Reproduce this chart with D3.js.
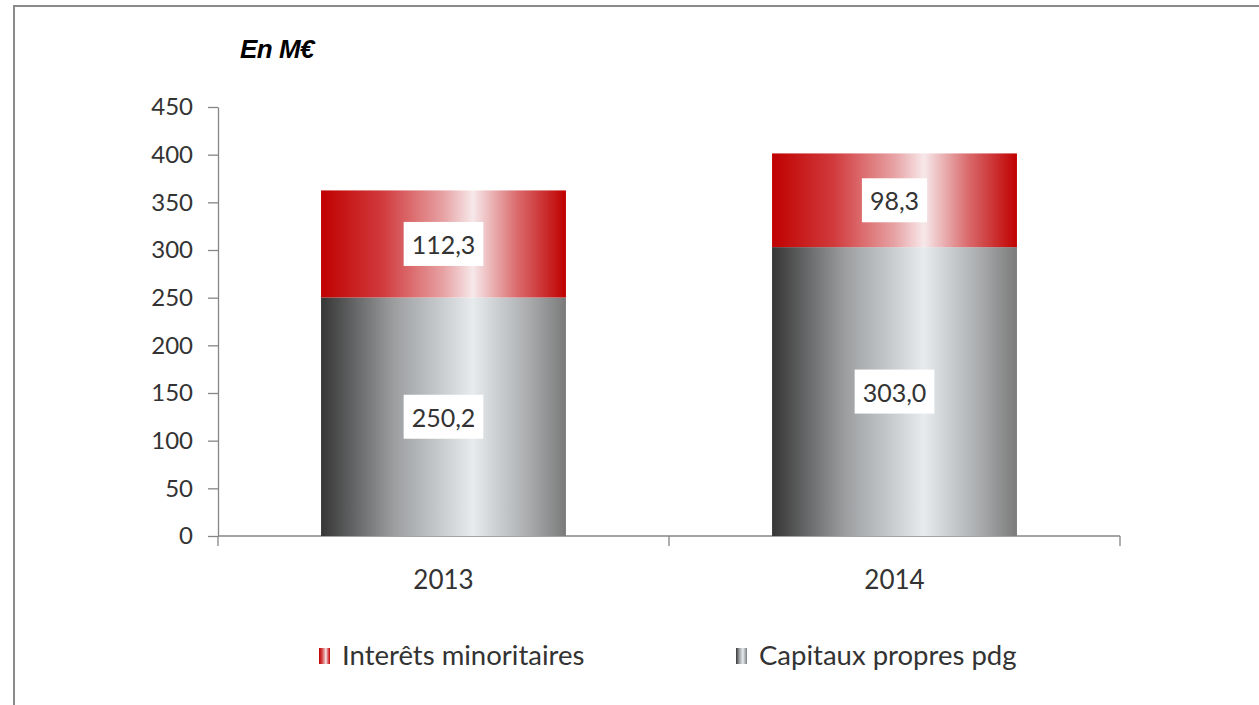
<!DOCTYPE html>
<html>
<head>
<meta charset="utf-8">
<script src="https://cdn.jsdelivr.net/npm/d3@7"></script>
<style>
  body { margin: 0; background: #fff; }
  text { font-family: Lato, "Open Sans", sans-serif; fill: #333; }
</style>
</head>
<body>
<div class="board"></div>
<script>
// data
var years = ['2013', '2014'];
var capitaux = [250.2, 303.0];
var interets = [112.3, 98.3];
var yTicks = [0, 50, 100, 150, 200, 250, 300, 350, 400, 450];
var legendLabels = ['Interêts minoritaires', 'Capitaux propres pdg'];

var width = 1259;
var height = 705;

var svg = d3.select('.board').append('svg')
  .attr('width', width)
  .attr('height', height);

// gradients
var defs = svg.append('defs');
var addGradient = function(id, stops) {
  var g = defs.append('linearGradient').attr('id', id)
    .attr('x1', '0%').attr('x2', '100%').attr('y1', '0%').attr('y2', '0%');
  stops.forEach(function(s) {
    g.append('stop').attr('offset', s[0]).attr('stop-color', s[1]);
  });
};
addGradient('redGrad', [[0, '#c00000'], [0.25, '#d13a3c'], [0.5, '#e7a2a4'], [0.62, '#f7e8ea'], [0.8, '#da6b6d'], [1, '#c00000']]);
addGradient('grayGrad', [[0, '#363636'], [0.3, '#9c9ea0'], [0.62, '#e7ebee'], [0.85, '#a9abad'], [1, '#7a7a7a']]);

// outer frame
svg.append('rect')
  .attr('x', 14).attr('y', 6)
  .attr('width', 1400).attr('height', 900)
  .attr('fill', 'none')
  .attr('stroke', '#8a8a8a')
  .attr('stroke-width', 2);

svg.append('text')
  .attr('x', 240).attr('y', 58)
  .style('font-family', '"Liberation Sans", Arial, sans-serif')
  .style('font-weight', 'bold')
  .style('font-style', 'italic')
  .style('font-size', '26px')
  .style('fill', '#000')
  .style('letter-spacing', '-0.5px')
  .text('En M€');

var x = d3.scaleBand().domain(years).range([218, 1120])
  .paddingInner(0.457).paddingOuter(0.2285);
var y = d3.scaleLinear().domain([0, 450]).range([536, 107]);

// y axis
var yAxis = svg.append('g')
  .attr('transform', 'translate(218,0)')
  .call(d3.axisLeft(y).tickValues(yTicks).tickSize(10).tickSizeOuter(0).tickPadding(15));
yAxis.selectAll('path, line').attr('stroke', '#868686').attr('stroke-width', 1.3);
yAxis.selectAll('text').style('font-size', '24px').style('font-family', 'Lato, sans-serif').attr('fill', '#333');

// x axis: line with ticks on the band boundaries
var step = x.step();
var bounds = [218, 218 + step, 218 + 2 * step];
svg.append('line')
  .attr('x1', 218).attr('x2', 1120).attr('y1', y(0)).attr('y2', y(0))
  .attr('stroke', '#868686').attr('stroke-width', 1.3);
svg.selectAll('.xtick').data(bounds).enter().append('line')
  .attr('class', 'xtick')
  .attr('x1', function(d) { return d; }).attr('x2', function(d) { return d; })
  .attr('y1', y(0)).attr('y2', y(0) + 10)
  .attr('stroke', '#868686').attr('stroke-width', 1.3);
svg.selectAll('.xlabel').data(years).enter().append('text')
  .attr('class', 'xlabel')
  .attr('x', function(d) { return x(d) + x.bandwidth() / 2; })
  .attr('y', 589)
  .attr('text-anchor', 'middle')
  .style('font-size', '26px')
  .text(function(d) { return d; });

// bars
var rows = years.map(function(yr, i) {
  return { year: yr, cap: capitaux[i], int: interets[i] };
});

svg.selectAll('.cap').data(rows).enter().append('rect')
  .attr('class', 'cap')
  .attr('x', function(d) { return x(d.year); })
  .attr('width', x.bandwidth())
  .attr('y', function(d) { return y(d.cap); })
  .attr('height', function(d) { return y(0) - y(d.cap); })
  .attr('fill', 'url(#grayGrad)');

svg.selectAll('.int').data(rows).enter().append('rect')
  .attr('class', 'int')
  .attr('x', function(d) { return x(d.year); })
  .attr('width', x.bandwidth())
  .attr('y', function(d) { return y(d.cap + d.int); })
  .attr('height', function(d) { return y(d.cap) - y(d.cap + d.int); })
  .attr('fill', 'url(#redGrad)');

// value labels in white boxes
var fmt = function(v) { return v.toFixed(1).replace('.', ','); };
var labels = [];
rows.forEach(function(d) {
  labels.push({ x: x(d.year) + x.bandwidth() / 2, y: y(d.cap / 2), v: d.cap });
  labels.push({ x: x(d.year) + x.bandwidth() / 2, y: y(d.cap + d.int / 2), v: d.int });
});
labels.forEach(function(l) {
  var g = svg.append('g');
  var t = g.append('text')
    .attr('x', l.x).attr('y', l.y)
    .attr('text-anchor', 'middle')
    .attr('dominant-baseline', 'central')
    .style('font-size', '25px')
    .text(fmt(l.v));
  var bb = t.node().getBBox();
  g.insert('rect', 'text')
    .attr('x', bb.x - 8).attr('y', l.y - 22)
    .attr('width', bb.width + 16).attr('height', 44)
    .attr('fill', '#fff');
});

// legend
var legend = [
  { label: legendLabels[0], fill: 'url(#redGrad)', x: 319 },
  { label: legendLabels[1], fill: 'url(#grayGrad)', x: 736 }
];
legend.forEach(function(d) {
  svg.append('rect')
    .attr('x', d.x).attr('y', 648)
    .attr('width', 11).attr('height', 16)
    .attr('fill', d.fill);
  svg.append('text')
    .attr('x', d.x + 23).attr('y', 665)
    .style('font-size', '27.5px')
    .text(d.label);
});
</script>
</body>
</html>
